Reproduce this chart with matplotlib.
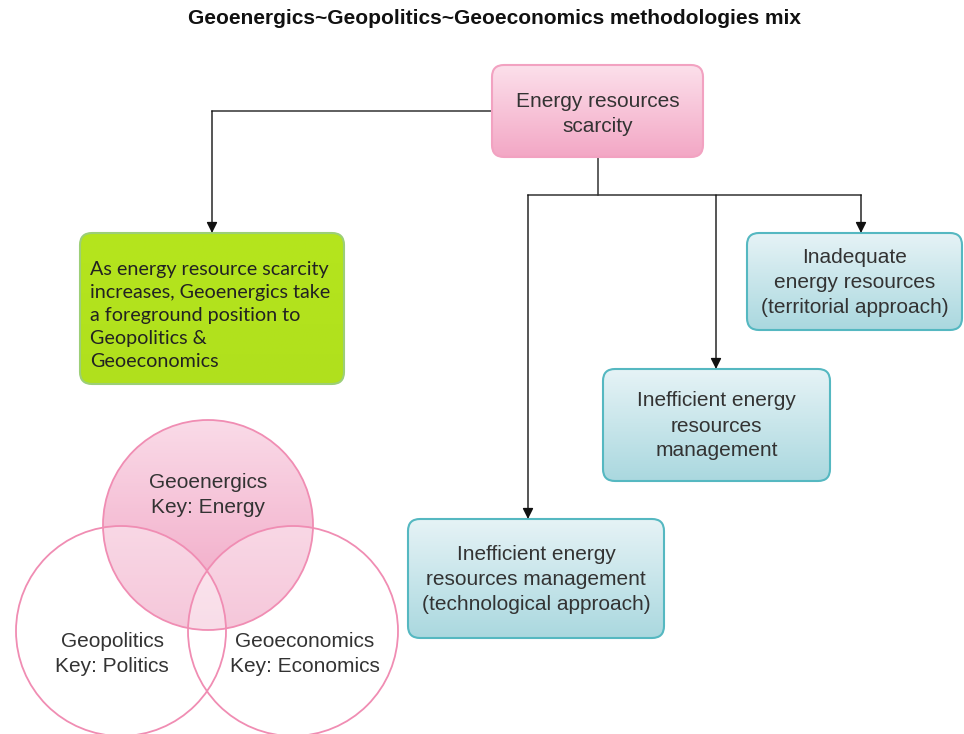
import numpy as np
import matplotlib.pyplot as plt
from matplotlib.patches import FancyBboxPatch, Circle
from matplotlib.colors import LinearSegmentedColormap

# diagram content
title = "Geoenergics~Geopolitics~Geoeconomics methodologies mix"
root_label = "Energy resources\nscarcity"
note_label = ("As energy resource scarcity\nincreases, Geoenergics take\n"
              "a foreground position to\nGeopolitics &\nGeoeconomics")
cause_labels = ["Inefficient energy\nresources management\n(technological approach)",
                "Inefficient energy\nresources\nmanagement",
                "Inadequate\nenergy resources\n(territorial approach)"]
venn_labels = ["Geoenergics\nKey: Energy",
               "Geopolitics\nKey: Politics",
               "Geoeconomics\nKey: Economics"]

# layout in pixel units (x0, y0, x1, y1)
root_box = (492, 65, 703, 157)
note_box = (80, 233, 344, 384)
cause_boxes = [(408, 519, 664, 638), (603, 369, 830, 481), (747, 233, 962, 330)]
venn_centers = [(208, 525), (121, 631), (293, 631)]
venn_r = 105

TXT = "#333333"
FS = 15

fig = plt.figure(figsize=(9.64, 7.34), dpi=100)
ax = fig.add_axes([0, 0, 1, 1])


def grad_fill(patch, c_top, c_bot, y0, y1, x0, x1, z):
    ax.add_patch(patch)
    cmap = LinearSegmentedColormap.from_list("g", [c_top, c_bot])
    im = ax.imshow(np.linspace(0, 1, 256)[:, None], cmap=cmap, aspect="auto",
                   extent=(x0, x1, y1, y0), zorder=z, interpolation="bilinear")
    im.set_clip_path(patch)


def box(b, c_top, c_bot, edge, r=12):
    x0, y0, x1, y1 = b
    p = FancyBboxPatch((x0, y0), x1 - x0, y1 - y0,
                       boxstyle=f"round,pad=0,rounding_size={r}",
                       facecolor="none", edgecolor="none", zorder=2)
    grad_fill(p, c_top, c_bot, y0, y1, x0, x1, 2)
    ax.add_patch(FancyBboxPatch((x0, y0), x1 - x0, y1 - y0,
                                boxstyle=f"round,pad=0,rounding_size={r}",
                                facecolor="none", edgecolor=edge, lw=1.5, zorder=3))


def arrow(x, y_from, y_to):
    ax.annotate("", xy=(x, y_to), xytext=(x, y_from),
                arrowprops=dict(arrowstyle="-|>", color="#111111", lw=1,
                                mutation_scale=16, shrinkA=0, shrinkB=0), zorder=4)


# title
ax.text(494, 19, title, ha="center", va="center", fontsize=15,
        fontweight="bold", family="Liberation Sans", color="#111111")

# root box
box(root_box, "#fce0eb", "#f3a7c5", "#f2a2c1")
ax.text((root_box[0] + root_box[2]) / 2, 114, root_label,
        ha="center", va="center", fontsize=FS, family="Liberation Sans",
        color=TXT, linespacing=1.4, zorder=5)

# connectors
ax.plot([root_box[0], 212], [111, 111], color="#333333", lw=1.1, zorder=1)
arrow(212, 111, note_box[1])
ax.plot([598, 598], [root_box[3], 195], color="#333333", lw=1.1, zorder=1)
ax.plot([528, 861], [195, 195], color="#333333", lw=1.1, zorder=1)
for b, xa in zip(cause_boxes, [528, 716, 861]):
    arrow(xa, 195, b[1])

# note box
box(note_box, "#b5e51d", "#b0e01d", "#9ccf77")
ax.text(note_box[0] + 10, (note_box[1] + note_box[3]) / 2 + 7, note_label,
        ha="left", va="center", fontsize=14.2, family="Lato", color="#222222",
        linespacing=1.43, zorder=5)

# cause boxes
for b, lab in zip(cause_boxes, cause_labels):
    box(b, "#e6f3f6", "#aad8df", "#55b8c1")
    ax.text((b[0] + b[2]) / 2, (b[1] + b[3]) / 2 + 1, lab, ha="center", va="center",
            fontsize=FS, family="Liberation Sans", color=TXT,
            linespacing=1.4, zorder=5)

# venn
cx, cy = venn_centers[0]
top = Circle((cx, cy), venn_r, facecolor="none", edgecolor="none")
grad_fill(top, "#fadbe8", "#f0a2c2", cy - venn_r, cy + venn_r,
          cx - venn_r, cx + venn_r, 2)
for (x, y) in venn_centers[1:]:
    ax.add_patch(Circle((x, y), venn_r, facecolor="white", alpha=0.4,
                        edgecolor="none", zorder=3))
for (x, y) in venn_centers:
    ax.add_patch(Circle((x, y), venn_r, facecolor="none", edgecolor="#f08db3",
                        lw=1.3, zorder=4))

ax.text(208, 495, venn_labels[0], ha="center", va="center", fontsize=FS,
        family="Liberation Sans", color=TXT, linespacing=1.38, zorder=5)
ax.text(112, 654, venn_labels[1], ha="center", va="center", fontsize=FS,
        family="Liberation Sans", color=TXT, linespacing=1.38, zorder=5)
ax.text(305, 654, venn_labels[2], ha="center", va="center", fontsize=FS,
        family="Liberation Sans", color=TXT, linespacing=1.38, zorder=5)

ax.set_xlim(0, 964)
ax.set_ylim(734, 0)
ax.axis("off")
fig.savefig("out.png", dpi=100)
